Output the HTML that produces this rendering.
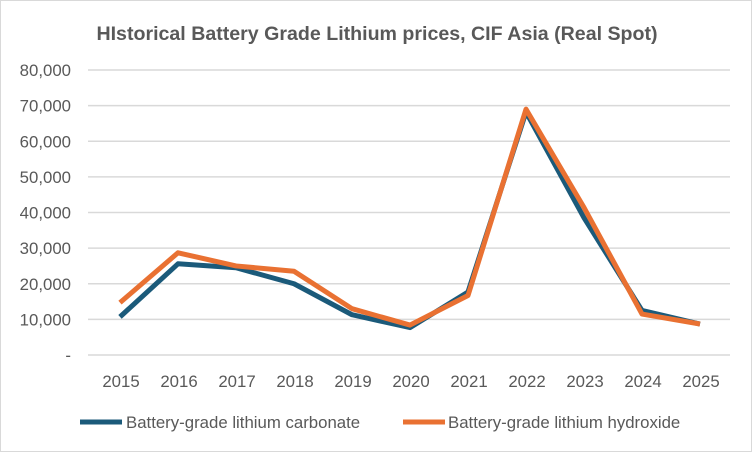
<!DOCTYPE html>
<html><head><meta charset="utf-8"><style>
html,body{margin:0;padding:0;background:#fff;}
body{width:752px;height:452px;overflow:hidden;font-family:"Liberation Sans",sans-serif;}
</style></head><body>
<svg width="752" height="452" xmlns="http://www.w3.org/2000/svg">
<rect x="0.5" y="0.5" width="751" height="451" fill="#fff" stroke="#d9d9d9"/>
<text x="377" y="40" text-anchor="middle" font-size="19.6" font-weight="bold" fill="#595959">HIstorical Battery Grade Lithium prices, CIF Asia (Real Spot)</text>
<g id="grid"></g>
<g id="yt"></g>
<g id="xt"></g>
<g id="lines"></g>
<g>
<line x1="80" y1="422" x2="122" y2="422" stroke="#1b5a7a" stroke-width="5"/>
<text x="126" y="428" font-size="16.8" fill="#595959">Battery-grade lithium carbonate</text>
<line x1="403" y1="422" x2="445" y2="422" stroke="#e97132" stroke-width="5"/>
<text x="448" y="428" font-size="16.8" fill="#595959">Battery-grade lithium hydroxide</text>
</g>
</svg>
<script>
const years=["2015","2016","2017","2018","2019","2020","2021","2022","2023","2024","2025"];
const carbonate=[10700,25600,24500,20000,11300,7700,17700,68200,38500,12500,8700];
const hydroxide=[14700,28700,25000,23500,13000,8400,16700,69000,41400,11500,8700];
const yTicks=[0,10000,20000,30000,40000,50000,60000,70000,80000];
const NS="http://www.w3.org/2000/svg";
function sx(i){return 120+i*58;}
function sy(v){return 355-v*285/80000;}
const grid=document.getElementById('grid'),yt=document.getElementById('yt'),xt=document.getElementById('xt'),lines=document.getElementById('lines');
yTicks.forEach(v=>{
 const l=document.createElementNS(NS,'line');
 l.setAttribute('x1',88);l.setAttribute('x2',730);l.setAttribute('y1',sy(v));l.setAttribute('y2',sy(v));
 l.setAttribute('stroke','#d9d9d9');l.setAttribute('stroke-width','1.5');
 
 
 grid.appendChild(l);
 const t=document.createElementNS(NS,'text');
 t.setAttribute('x',71);t.setAttribute('y',sy(v)+6);t.setAttribute('text-anchor','end');
 t.setAttribute('font-size','16.8');t.setAttribute('fill','#595959');
 t.textContent=v===0?'-':v.toLocaleString('en-US');
 
 
 yt.appendChild(t);
});
years.forEach((y,i)=>{
 const t=document.createElementNS(NS,'text');
 t.setAttribute('x',sx(i)+1);t.setAttribute('y',387);t.setAttribute('text-anchor','middle');
 t.setAttribute('font-size','16.8');t.setAttribute('fill','#595959');
 t.textContent=y;
 
 
 xt.appendChild(t);
});
function draw(arr,color,name){
 const p=document.createElementNS(NS,'polyline');
 p.setAttribute('points',arr.map((v,i)=>sx(i)+','+sy(v)).join(' '));
 p.setAttribute('fill','none');p.setAttribute('stroke',color);p.setAttribute('stroke-width','5');
 p.setAttribute('stroke-linejoin','round');
 
 
 lines.appendChild(p);
}
draw(carbonate,'#1b5a7a','line-carbonate');
draw(hydroxide,'#e97132','line-hydroxide');
</script>
</body></html>
